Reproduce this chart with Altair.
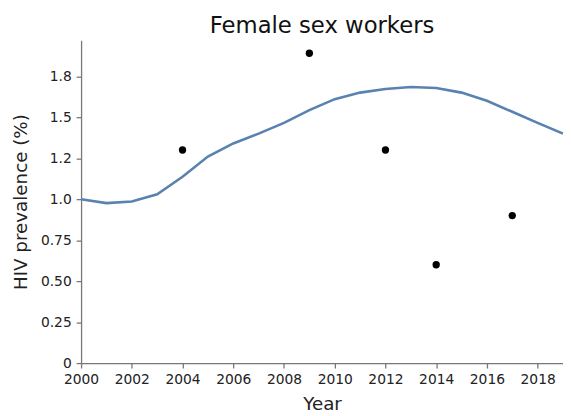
import altair as alt
import pandas as pd

# Model curve (year, prevalence %)
line_years = [2000, 2001, 2002, 2003, 2004, 2005, 2006, 2007, 2008, 2009,
              2010, 2011, 2012, 2013, 2014, 2015, 2016, 2017, 2018, 2019]
line_values = [1.00, 0.976, 0.986, 1.03, 1.137, 1.26, 1.34, 1.40, 1.465, 1.543,
               1.61, 1.65, 1.672, 1.684, 1.678, 1.65, 1.60, 1.533, 1.465, 1.40]

# Survey observations
obs_years = [2004, 2009, 2012, 2014, 2017]
obs_values = [1.30, 1.89, 1.30, 0.60, 0.90]

# Y tick positions and their labels as printed
y_ticks = [0, 0.25, 0.5, 0.75, 1.0, 1.25, 1.5, 1.75]
y_labels = ["0", "0.25", "0.50", "0.75", "1.0", "1.2", "1.5", "1.8"]
x_ticks = list(range(2000, 2019, 2))

line_df = pd.DataFrame({"Year": line_years, "Prevalence": line_values})
obs_df = pd.DataFrame({"Year": obs_years, "Prevalence": obs_values})

label_expr = "[" + ",".join("'%s'" % l for l in y_labels) + "][indexof([" + \
    ",".join(str(t) for t in y_ticks) + "], datum.value)]"

x_enc = alt.X("Year:Q",
              scale=alt.Scale(domain=[2000, 2019], nice=False, zero=False),
              axis=alt.Axis(values=x_ticks, format="d", title="Year"))
y_enc = alt.Y("Prevalence:Q",
              scale=alt.Scale(domain=[0, 1.97], nice=False),
              axis=alt.Axis(values=y_ticks, labelExpr=label_expr,
                            title="HIV prevalence (%)"))

line = alt.Chart(line_df).mark_line(color="#5a82b0", strokeWidth=2.6).encode(
    x=x_enc, y=y_enc)
pts = alt.Chart(obs_df).mark_circle(color="black", size=55, opacity=1).encode(
    x="Year:Q", y="Prevalence:Q")

chart = (line + pts).properties(
    width=488, height=327,
    title=alt.TitleParams("Female sex workers", fontSize=23, font="DejaVu Sans",
                          fontWeight="normal", color="#111", anchor="middle",
                          offset=2),
    autosize=alt.AutoSizeParams(type="none"),
    padding={"left": 74, "top": 30, "right": 0, "bottom": 50},
).configure_view(stroke=None).configure_axis(
    grid=False,
    domainColor="#777", domainWidth=1.3,
    tickColor="#777", tickSize=5, tickWidth=1.3,
    labelFont="DejaVu Sans", labelFontSize=14, labelColor="#222",
    titleFont="DejaVu Sans", titleFontSize=18.5, titleFontWeight="normal",
    titleColor="#222", labelPadding=5,
).configure_axisY(titlePadding=10).configure_axisX(titlePadding=8, labelFlush=False)

chart.save("out.html", embed_options={"renderer": "svg", "actions": False})
